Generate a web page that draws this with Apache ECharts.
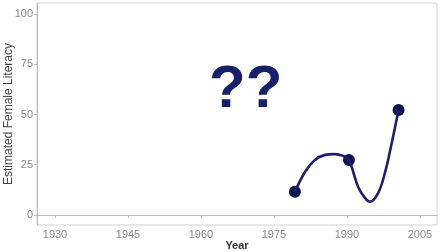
<!DOCTYPE html>
<html><head><meta charset="utf-8">
<script src="https://cdn.jsdelivr.net/npm/echarts@6/dist/echarts.min.js"></script>
<style>html,body{margin:0;padding:0;background:#fff}#c{width:442px;height:252px}</style>
</head><body><div id="c"></div>
<script>
const xTicks = [1930, 1945, 1960, 1975, 1990, 2005];
const yTicks = [0, 25, 50, 75, 100];
const pointYears = [1979.3, 1990.4, 2000.6];
const pointValues = [11.6, 27.4, 52.2];
const curveYears = [1979.3, 1981.4, 1983.4, 1985.5, 1987.5, 1989.2, 1990.4, 1992.3, 1993.7, 1994.7, 1996.4, 1997.8, 1999.2, 2000.6];
const curveValues = [11.6, 21.5, 27.4, 29.9, 30.3, 29.4, 27.4, 13.9, 8.5, 6.6, 10.9, 20.9, 35.8, 52.2];
const overlayText = '??';

const chart = echarts.init(document.getElementById('c'), null, {renderer: 'canvas'});
chart.setOption({
  animation: false,
  backgroundColor: '#fff',
  grid: {left: 37, right: 5, top: 3, bottom: 27, show: true, borderColor: '#d0d0d0', borderWidth: 1, containLabel: false, outerBoundsMode: 'none'},
  xAxis: {
    type: 'value', min: 1926.3, max: 2008.5,
    name: 'Year', nameLocation: 'middle', nameGap: 15, nameMoveOverlap: false,
    nameTextStyle: {fontFamily: 'Liberation Sans', fontSize: 11, fontWeight: 'bold', color: '#333'},
    axisLine: {lineStyle: {color: '#bbb'}},
    axisTick: {show: true, length: 3, customValues: xTicks, lineStyle: {color: '#bbb'}},
    axisLabel: {customValues: xTicks, formatter: v => String(v), fontFamily: 'Liberation Sans', fontSize: 11, color: '#888', margin: 4},
    splitLine: {show: false}
  },
  yAxis: {
    type: 'value', min: -5, max: 105.5,
    name: 'Estimated Female Literacy', nameLocation: 'middle', nameGap: 22, nameRotate: 90, nameMoveOverlap: false,
    nameTextStyle: {fontFamily: 'Liberation Sans', fontSize: 12, color: '#444'},
    axisLine: {show: true, lineStyle: {color: '#bbb'}},
    axisTick: {show: true, length: 3, customValues: yTicks, lineStyle: {color: '#bbb'}},
    axisLabel: {customValues: yTicks, formatter: v => String(v), fontFamily: 'Liberation Sans', fontSize: 11, color: '#888', margin: 4},
    splitLine: {show: false}
  },
  graphic: [{
    type: 'text', left: 209, top: 60,
    style: {text: overlayText, font: 'bold 60px "Liberation Sans"', fill: '#16206a'}
  }],
  series: [
    {
      type: 'line', smooth: 0.35, showSymbol: false,
      data: curveYears.map((y, i) => [y, curveValues[i]]),
      lineStyle: {color: '#1e1e6a', width: 2.6}
    },
    {
      type: 'scatter', symbolSize: 12,
      data: pointYears.map((y, i) => [y, pointValues[i]]),
      itemStyle: {color: '#0e1450', opacity: 1}
    }
  ]
});
</script></body></html>
